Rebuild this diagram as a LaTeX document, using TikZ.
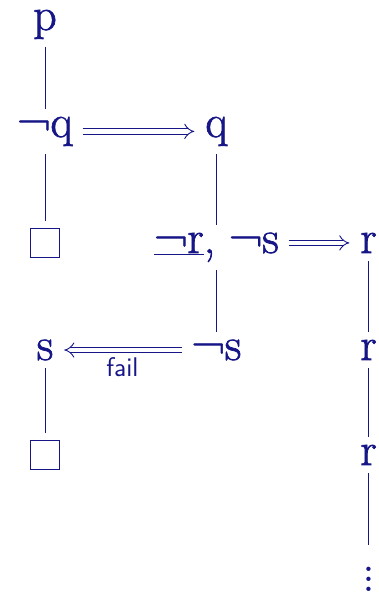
\documentclass[tikz,border=0pt]{standalone}
\usepackage{fontspec}
\usetikzlibrary{arrows.meta}
\newfontface\litface{Latin Modern Roman}[FakeBold=1.5]
\definecolor{ink}{RGB}{22,22,135}
\newcommand{\stackeddots}{\vbox{\baselineskip10pt\lineskiplimit0pt
  \hbox{.}\hbox{.}\hbox{.}}}
\begin{document}
\begin{tikzpicture}[x=1pt,y=-1pt,
  every node/.style={inner sep=0pt, outer sep=0pt, text=ink},
  lit/.style={anchor=base, font=\litface\fontsize{46}{50}\selectfont},
  emptyclause/.style={draw=ink, line width=1.6pt, minimum size=29pt},
  branch/.style={draw=ink, line width=0.9pt, shorten <=8pt, shorten >=8pt},
  implies/.style={draw=ink, line width=0.9pt, double=white,
    double distance=4.5pt, -{Implies}, shorten <=10pt, shorten >=11pt},
  note/.style={font=\sffamily\fontsize{27}{30}\selectfont}]
\useasboundingbox (0,0) rectangle (379,592);

% literals of the derivation
\node[lit] (p)  at (45,30)    {p};
\node[lit] (nq) at (45,137)   {¬q};
\node[lit] (q)  at (216.5,137) {q};
\node[emptyclause] (box1) at (45,243) {};
\node[lit] (nrs) at (216.5,253) {\underline{¬r}, ¬s};
\node[lit] (r1) at (368.5,253) {r};
\node[lit] (s)  at (45,360)   {s};
\node[lit] (ns) at (216.5,360) {¬s};
\node[lit] (r2) at (368.5,360) {r};
\node[emptyclause] (box2) at (45,455) {};
\node[lit] (r3) at (368.5,465) {r};
\node[anchor=south, font=\bfseries\fontsize{30}{10}\selectfont] (more)
  at (368.5,591) {\stackeddots};

% tree branches
\draw[branch] (p) -- (nq);
\draw[branch] (nq) -- (box1);
\draw[branch] (q) -- (nrs);
\draw[branch] (nrs) -- (ns);
\draw[branch] (s) -- (box2);
\draw[branch] (r1) -- (r2);
\draw[branch] (r2) -- (r3);
\draw[branch, shorten >=22pt] (r3) -- (more);

% calls between subderivations
\draw[implies] (nq.east) -- (q.west);
\draw[implies] (nrs.east |- r1.west) -- (r1.west);
\draw[implies] (ns.west) -- (s.east) node[midway, below=8pt, note] (failnote) {fail};
\end{tikzpicture}
\end{document}
